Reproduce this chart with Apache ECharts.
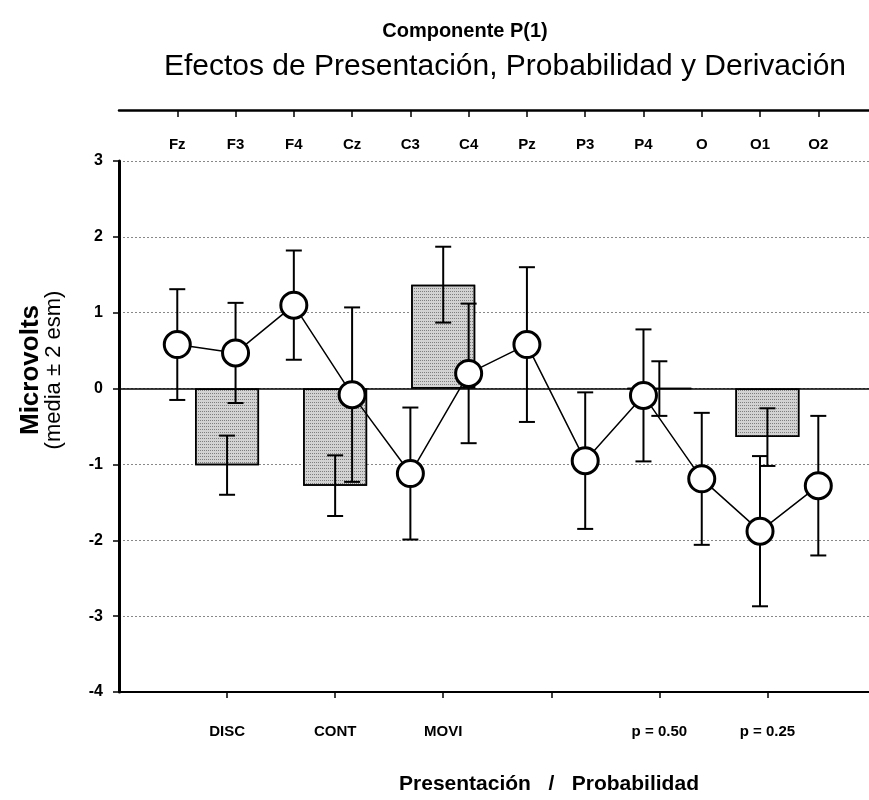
<!DOCTYPE html>
<html>
<head>
<meta charset="utf-8">
<script src="https://cdn.jsdelivr.net/npm/echarts@6/dist/echarts.min.js"></script>
<style>html,body{margin:0;padding:0;background:#fff;}#c{width:869px;height:800px;}</style>
</head>
<body>
<div id="c"></div>
<script>
const topCategories = ['Fz','F3','F4','Cz','C3','C4','Pz','P3','P4','O','O1','O2'];
const pointMeans = [0.58, 0.47, 1.10, -0.08, -1.12, 0.20, 0.58, -0.95, -0.09, -1.19, -1.88, -1.28];
const pointErrors = [0.73, 0.66, 0.72, 1.15, 0.87, 0.92, 1.02, 0.90, 0.87, 0.87, 0.99, 0.92];
const bottomLabels = ['DISC', 'CONT', 'MOVI', '', 'p = 0.50', 'p = 0.25'];
const barMeans = [-1.01, -1.28, 1.37, null, 0.0, -0.64];
const barErrors = [0.39, 0.40, 0.50, null, 0.36, 0.38];
const yTicks = [-4, -3, -2, -1, 0, 1, 2, 3];

const FONT = '"Liberation Sans", Arial, sans-serif';

const barData = [];
const barErrData = [];
barMeans.forEach((m, i) => {
  if (m === null) return;
  barData.push([i + 1, m]);
  barErrData.push([i + 1, m - barErrors[i], m + barErrors[i]]);
});
const pointData = pointMeans.map((m, i) => [i + 1, m]);
const pointErrData = pointMeans.map((m, i) => [i + 1, m - pointErrors[i], m + pointErrors[i]]);

function renderErr(params, api) {
  const x = api.value(0), lo = api.value(1), hi = api.value(2);
  const p1 = api.coord([x, hi]);
  const p2 = api.coord([x, lo]);
  const w = 8;
  const st = {stroke: '#000', lineWidth: 2};
  return {
    type: 'group',
    children: [
      {type: 'line', shape: {x1: p1[0], y1: p1[1], x2: p2[0], y2: p2[1]}, style: st},
      {type: 'line', shape: {x1: p1[0] - w, y1: p1[1], x2: p1[0] + w, y2: p1[1]}, style: st},
      {type: 'line', shape: {x1: p2[0] - w, y1: p2[1], x2: p2[0] + w, y2: p2[1]}, style: st}
    ]
  };
}

const chart = echarts.init(document.getElementById('c'), null, {renderer: 'canvas'});
chart.setOption({
  animation: false,
  backgroundColor: '#fff',
  title: [
    {text: 'Componente P(1)', left: 460, top: 16, textAlign: 'center',
     textStyle: {fontFamily: FONT, fontWeight: 'bold', fontSize: 20, color: '#000'}},
    {text: 'Efectos de Presentación, Probabilidad y Derivación', left: 500, top: 47, textAlign: 'center',
     textStyle: {fontFamily: FONT, fontWeight: 'normal', fontSize: 30, color: '#000'}}
  ],
  graphic: [
    {type: 'text', x: 31, y: 370, rotation: Math.PI / 2,
     style: {text: 'Microvolts', font: 'bold 26px "Liberation Sans", Arial, sans-serif', fill: '#000',
       textAlign: 'center', textVerticalAlign: 'middle'}},
    {type: 'text', x: 54, y: 370, rotation: Math.PI / 2,
     style: {text: '(media ± 2 esm)', font: 'normal 22px "Liberation Sans", Arial, sans-serif', fill: '#000',
       textAlign: 'center', textVerticalAlign: 'middle'}}
  ],
  grid: {left: 119, right: 0, top: 161, bottom: 94},
  xAxis: [
    {
      type: 'value', position: 'bottom', min: 0, max: 6.94, interval: 1,
      axisLine: {show: true, onZero: false, lineStyle: {color: '#000', width: 2}},
      axisTick: {show: true, inside: false, length: 6, lineStyle: {color: '#000', width: 1.5}},
      splitLine: {show: false},
      axisLabel: {
        show: true, margin: 32, color: '#000', fontFamily: FONT, fontWeight: 'bold', fontSize: 15,
        showMinLabel: false, showMaxLabel: false,
        formatter: v => (Number.isInteger(v) && v >= 1 && v <= bottomLabels.length) ? bottomLabels[v - 1] : ''
      },
      name: 'Presentación   /   Probabilidad', nameLocation: 'middle', nameGap: 82,
      nameTextStyle: {fontFamily: FONT, fontWeight: 'bold', fontSize: 21, color: '#000', padding: [0, 0, 0, 110]}
    },
    {
      type: 'value', position: 'top', offset: 51, min: 0, max: 12.87, interval: 1,
      axisLine: {show: true, onZero: false, lineStyle: {color: '#000', width: 2.5}},
      axisTick: {show: true, inside: true, length: 7, lineStyle: {color: '#000', width: 1.5}},
      splitLine: {show: false},
      axisLabel: {
        show: true, inside: true, margin: 27, color: '#000', fontFamily: FONT, fontWeight: 'bold', fontSize: 15,
        showMinLabel: false, showMaxLabel: false,
        formatter: v => (Number.isInteger(v) && v >= 1 && v <= topCategories.length) ? topCategories[v - 1] : ''
      }
    }
  ],
  yAxis: {
    type: 'value', min: -4, max: 3, interval: 1,
    axisLine: {show: true, onZero: false, lineStyle: {color: '#000', width: 3}},
    axisTick: {show: true, inside: false, length: 6, lineStyle: {color: '#000', width: 1.5}},
    axisLabel: {margin: 16, color: '#000', fontFamily: FONT, fontWeight: 'bold', fontSize: 16,
      formatter: v => yTicks.includes(v) ? String(v) : ''},
    splitLine: {show: true, lineStyle: {color: '#888', width: 1, type: [2, 2]}}
  },
  series: [
    {
      type: 'bar', xAxisIndex: 0, yAxisIndex: 0, data: barData, barWidth: 64, z: 2,
      itemStyle: {
        color: '#d2d2d2', borderColor: '#000', borderWidth: 1.5,
        decal: {symbol: 'rect', symbolSize: 1, color: 'rgba(0,0,0,0.4)', dashArrayX: [1, 1], dashArrayY: [1, 2], rotation: 0}
      },
      markLine: {
        silent: true, symbol: 'none', label: {show: false},
        lineStyle: {color: '#000', width: 1.5, type: 'solid'},
        data: [{yAxis: 0}]
      }
    },
    {type: 'custom', xAxisIndex: 0, yAxisIndex: 0, data: barErrData, renderItem: renderErr, z: 3},
    {type: 'custom', xAxisIndex: 1, yAxisIndex: 0, data: pointErrData, renderItem: renderErr, z: 3},
    {
      type: 'line', xAxisIndex: 1, yAxisIndex: 0, data: pointData, z: 5,
      symbol: 'circle', symbolSize: 26,
      itemStyle: {color: '#fff', borderColor: '#000', borderWidth: 3},
      lineStyle: {color: '#000', width: 1.5}
    }
  ]
});
</script>
</body>
</html>
